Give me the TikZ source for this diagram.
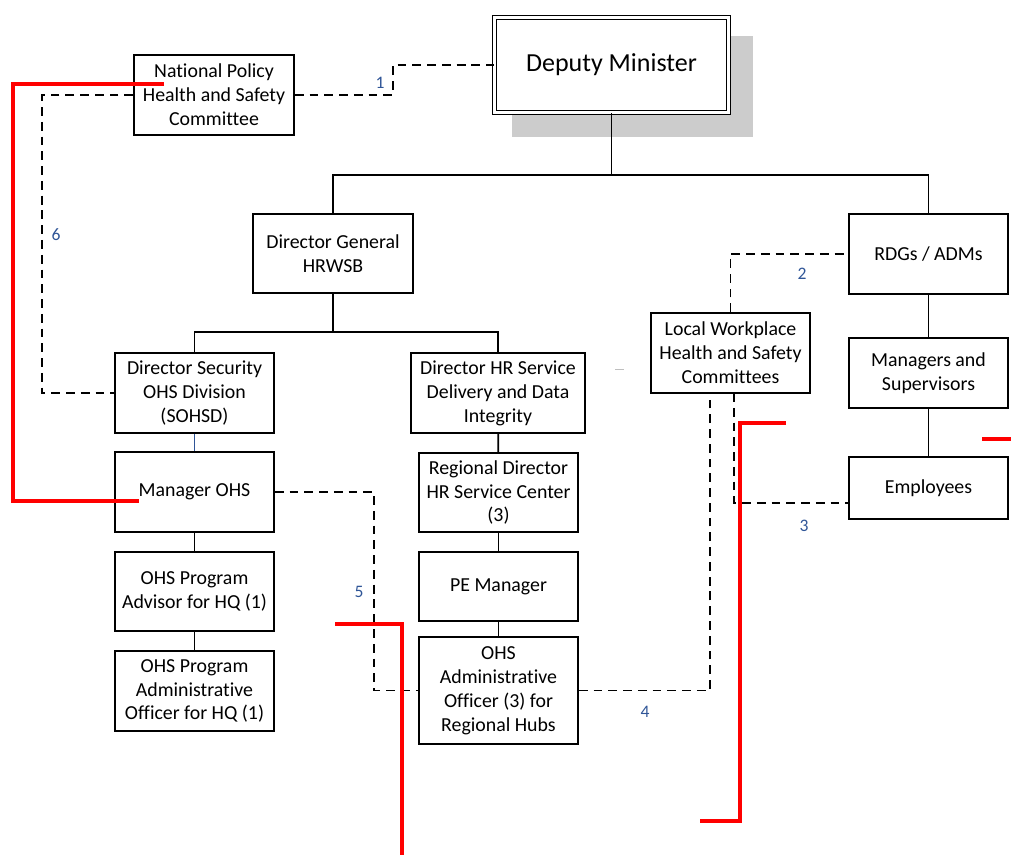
\documentclass[tikz,border=0pt]{standalone}
\usepackage{fontspec}
\setmainfont[Ligatures=NoCommon]{Carlito}
\definecolor{numblue}{RGB}{47,85,151}
\definecolor{markred}{RGB}{255,0,0}

\begin{document}
\begin{tikzpicture}[x=0.02cm,y=-0.02cm,
    unit/.style={draw,line width=1pt,fill=white,align=center,inner sep=1pt,
        minimum width=3.18cm,minimum height=1.6cm,font=\fontsize{11.3}{13.6}\selectfont},
    link/.style={line width=1pt},
    dotlink/.style={line width=0.9pt,dash pattern=on 5pt off 3.4pt},
    num/.style={text=numblue,font=\fontsize{10}{12}\selectfont,inner sep=0pt},
    redmark/.style={markred,line width=2.1pt}]

\useasboundingbox (0,0) rectangle (1011,855);

\fill[black!20] (512,36) rectangle (753,137);
\node[unit,double,double distance=1.6pt,line width=0.7pt,minimum width=4.68cm,minimum height=1.9cm,font=\fontsize{14.8}{17.8}\selectfont] (dm) at (611.5,65) {Deputy Minister};

\node[unit,minimum width=3.2cm] (np) at (214,95) {National Policy\\Health and Safety\\Committee};
\node[unit,minimum width=3.2cm,minimum height=1.58cm] (dg) at (333,253.5) {Director General\\HRWSB};
\node[unit] (rdg) at (928.5,254) {RDGs / ADMs};
\node[unit] (ds) at (194.5,393) {Director Security\\OHS Division\\(SOHSD)};
\node[unit,minimum width=3.48cm] (dhr) at (498,393) {Director HR Service\\Delivery and Data\\Integrity};
\node[unit] (lw) at (730.5,353) {Local Workplace\\Health and Safety\\Committees};
\node[unit,minimum height=1.4cm] (ms) at (928.5,373) {Managers and\\Supervisors};
\node[unit,minimum height=1.24cm] (emp) at (928.5,488) {Employees};
\node[unit] (mo) at (194.5,492) {Manager OHS};
\node[unit,minimum height=1.58cm] (adv) at (194.5,591.5) {OHS Program\\Advisor for HQ (1)};
\node[unit] (aoh) at (194.5,691) {OHS Program\\Administrative\\Officer for HQ (1)};
\node[unit,minimum height=1.58cm] (rd) at (498.5,492.5) {Regional Director\\HR Service Center\\(3)};
\node[unit,minimum height=1.38cm] (pe) at (498.5,586.5) {PE Manager};
\node[unit,minimum height=2.14cm] (oao) at (498.5,690.5) {OHS\\Administrative\\Officer (3) for\\Regional Hubs};

\coordinate (busa) at (0,175);
\coordinate (busb) at (0,332);
\draw[link] (dm.south) -- (dm.south |- busa);
\draw[link] (dg.north) |- (rdg.north |- busa) -- (rdg.north);
\draw[link] (dg.south) -- (dg.south |- busb);
\draw[link] (ds.north) |- (dhr.north |- busb) -- (dhr.north);
\draw[numblue,line width=0.6pt] (ds) -- (mo);
\draw[link] (mo) -- (adv);
\draw[link] (adv) -- (aoh);
\draw[link] (dhr) -- (rd);
\draw[link] (rd) -- (pe);
\draw[link] (pe) -- (oao);
\draw[link] (rdg) -- (ms);
\draw[link] (ms) -- (emp);

\coordinate (c1) at (393,65);
\coordinate (c6) at (42,95);
\coordinate (c5) at (374,492);
\coordinate (c4) at (710,393);
\coordinate (c3) at (734,393);
\draw[dotlink] (np.east) -| (c1) -- (dm.west);
\draw[dotlink] (np.west) -- (c6) |- (ds.west);
\draw[dotlink] (mo.east) -- (c5) |- (oao.west);
\draw[dotlink] (oao.east) -| (c4);
\draw[dotlink] (c3) |- ([yshift=-0.3cm]emp.west);
\draw[dotlink] (lw.north) |- (rdg.west);

\node[num] (n1) at (380,83) {1};
\node[num] (n2) at (802,274) {2};
\node[num] (n3) at (804,526) {3};
\node[num] (n4) at (645,712) {4};
\node[num] (n5) at (359,592) {5};
\node[num] (n6) at (56,235) {6};

\draw[black!25,line width=0.5pt] (615,369) -- (624,369);

\draw[redmark] (164,84) -- (13,84) -- (13,501) -- (139,501);
\draw[redmark] (335,624) -- (402,624) -- (402,855);
\draw[redmark] (786,423) -- (740,423) -- (740,821) -- (700,821);
\draw[redmark] (982,439) -- (1011,439);

\end{tikzpicture}
\end{document}
